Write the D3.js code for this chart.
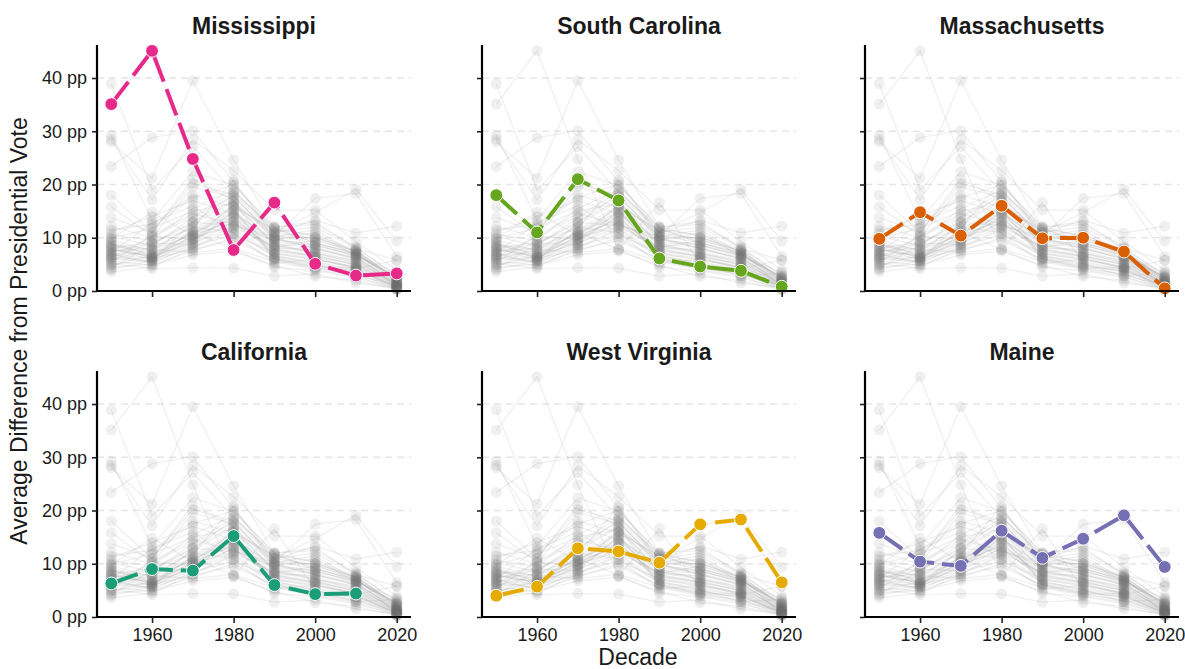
<!DOCTYPE html>
<html>
<head>
<meta charset="utf-8">
<script src="https://cdn.jsdelivr.net/npm/d3@7"></script>
<style>
  html, body { margin: 0; padding: 0; background: #ffffff; }
  svg { display: block; font-family: "Liberation Sans", Arial, Helvetica, sans-serif; }
</style>
</head>
<body>
<svg id="chart" width="1185" height="669"></svg>
<script>
// Decades on the x axis
const decades = [1950, 1960, 1970, 1980, 1990, 2000, 2010, 2020];
const xTickValues = [1960, 1980, 2000, 2020];
const yTickValues = [0, 10, 20, 30, 40];
const gridValues = [10, 20, 30, 40];

// States shown in their own panel, with their colours
const focusStates = ["Mississippi", "South Carolina", "Massachusetts", "California", "West Virginia", "Maine"];
const focusColors = ["#E7298A", "#66A61E", "#D95F02", "#1B9E77", "#E6AB02", "#7570B3"];

// Average difference (pp) per decade, one row per state (null = no value)
const stateNames = [
  "Mississippi", "South Carolina", "Massachusetts", "California", "West Virginia", "Maine",
  "Alabama", "Georgia", "Louisiana", "Arkansas", "Texas", "Virginia", "North Carolina",
  "Tennessee", "Florida", "Kentucky", "Oklahoma", "Maryland", "Delaware", "New York",
  "New Jersey", "Pennsylvania", "Ohio", "Michigan", "Indiana", "Illinois", "Wisconsin",
  "Minnesota", "Iowa", "Missouri", "Kansas", "Nebraska", "South Dakota", "North Dakota",
  "Montana", "Wyoming", "Colorado", "Utah", "Idaho", "Nevada", "Arizona", "New Mexico",
  "Oregon", "Washington", "Connecticut", "Rhode Island", "Vermont", "New Hampshire",
  "Hawaii", "Alaska"
];
const stateValues = [
  [35.1, 45.1, 24.8, 7.7, 16.6, 5.1, 2.9, 3.3],
  [18.0, 11.0, 21.0, 17.0, 6.1, 4.6, 3.8, 0.8],
  [9.8, 14.8, 10.4, 16.0, 9.9, 10.0, 7.4, 0.5],
  [6.3, 9.0, 8.7, 15.2, 6.0, 4.3, 4.4, null],
  [4.0, 5.7, 12.9, 12.3, 10.2, 17.4, 18.3, 6.5],
  [15.8, 10.4, 9.6, 16.2, 11.1, 14.7, 19.1, 9.4],
  [38.9, 19.0, 27.1, 18.6, 11.8, 9.0, 7.0, 2.5],
  [28.0, 21.2, 39.5, 24.6, 12.0, 10.2, 7.5, 1.8],
  [23.4, 28.8, 30.1, 20.5, 10.8, 13.3, 10.9, 12.2],
  [28.5, 17.1, 28.4, 22.6, 15.2, 15.2, 9.3, 3.9],
  [29.3, 13.3, 22.4, 19.8, 12.0, 12.5, 8.3, 2.7],
  [13.8, 11.0, 20.2, 18.0, 9.5, 8.8, 6.5, 1.2],
  [12.2, 10.0, 19.6, 17.5, 10.5, 9.0, 7.2, 1.5],
  [11.5, 12.5, 18.0, 15.8, 11.5, 10.5, 7.8, 2.0],
  [11.0, 14.0, 17.0, 14.5, 9.8, 8.0, 6.0, 1.0],
  [10.6, 9.5, 15.5, 19.0, 11.0, 12.0, 8.0, 5.8],
  [10.2, 8.5, 13.8, 17.8, 10.2, 11.5, 7.0, 2.4],
  [9.6, 7.5, 12.5, 16.8, 8.5, 7.5, 5.5, 1.4],
  [9.3, 6.5, 11.0, 14.0, 7.0, 6.0, 4.5, 0.8],
  [9.0, 6.0, 10.5, 13.2, 8.0, 7.8, 6.2, 1.6],
  [8.8, 6.8, 9.8, 12.8, 7.5, 6.5, 5.0, 1.1],
  [8.5, 7.2, 10.8, 15.0, 9.2, 8.5, 6.8, 2.1],
  [8.3, 6.3, 9.5, 14.8, 8.8, 8.2, 6.3, 1.7],
  [8.1, 5.8, 11.5, 16.0, 9.0, 7.0, 5.8, 1.3],
  [7.9, 6.4, 10.2, 13.5, 7.8, 6.8, 4.8, 0.9],
  [7.7, 6.6, 9.0, 12.0, 8.2, 9.5, 7.5, 2.4],
  [7.5, 8.0, 12.0, 11.0, 6.5, 5.5, 4.0, 0.5],
  [7.3, 9.0, 13.0, 17.0, 10.0, 8.0, 6.0, 1.9],
  [7.0, 5.2, 8.5, 10.5, 7.2, 6.2, 4.2, 0.7],
  [6.8, 6.2, 9.2, 14.2, 8.6, 7.2, 5.2, 1.5],
  [6.6, 5.5, 8.2, 11.8, 6.8, 5.0, 3.5, 0.4],
  [6.1, 6.1, 7.8, 9.5, 6.0, 4.5, 3.0, 1.0],
  [5.9, 7.8, 7.2, 8.0, 5.5, 4.0, 2.8, 0.3],
  [5.6, 4.8, 6.8, 7.5, 4.8, 2.7, 2.0, 0.2],
  [5.4, 10.5, 14.5, 12.5, 9.5, 11.0, 6.5, 2.8],
  [5.2, 4.2, 4.4, 4.3, 2.8, 3.2, 1.5, 0.6],
  [5.0, 5.8, 8.8, 13.0, 7.0, 5.8, 4.6, 1.2],
  [4.8, 6.7, 11.2, 15.5, 6.2, 4.8, 3.8, 0.8],
  [4.5, 5.0, 7.5, 10.0, 5.8, 4.2, 3.2, 0.5],
  [4.2, 8.8, 12.8, 18.2, 11.0, 9.8, 7.0, 2.0],
  [3.6, 4.5, 8.0, 11.5, 6.4, 5.2, 4.0, 1.0],
  [9.9, 11.8, 15.0, 16.5, 10.4, 10.0, 7.6, 2.3],
  [6.9, 7.0, 10.0, 12.2, 8.4, 7.0, 5.4, 1.4],
  [6.0, 5.6, 9.8, 13.8, 7.6, 6.6, 5.0, 1.1],
  [8.7, 7.8, 10.6, 14.6, 8.0, 6.4, 4.4, 0.6],
  [8.0, 9.2, 11.8, 20.8, 9.8, 8.6, 6.6, 3.5],
  [7.2, 12.8, 16.0, 10.8, 5.2, 6.0, 4.2, 5.8],
  [6.4, 10.2, 14.0, 18.6, 11.6, 9.2, 6.8, 2.6],
  [null, 8.2, 11.0, 7.8, 4.5, 3.8, 2.5, 0.4],
  [null, 12.0, 17.5, 20.0, 12.0, 13.0, 8.0, 3.0]
];

// Layout of the 2 x 3 panel grid
const colLeft = [97, 482, 865];
const panelWidth = 314;
const rowTop = [45, 371];
const panelHeight = 246;
const font = '"Liberation Sans", Arial, Helvetica, sans-serif';

const svg = d3.select("#chart");

// Shared scales (each panel group is translated into place)
const x = d3.scaleLinear().domain([1946.5, 2023.5]).range([0, panelWidth]);
const y = d3.scaleLinear().domain([0, 46.2]).range([panelHeight, 0]);

const series = stateNames.map((name, i) => ({
  name,
  points: decades.map((d, j) => ({ decade: d, value: stateValues[i][j] }))
}));

const line = d3.line()
  .defined(p => p.value !== null)
  .x(p => x(p.decade))
  .y(p => y(p.value));

focusStates.forEach((stateName, k) => {
  const row = Math.floor(k / 3), col = k % 3;
  const g = svg.append("g").attr("transform", `translate(${colLeft[col]},${rowTop[row]})`);

  // dashed horizontal gridlines
  g.append("g").selectAll("line").data(gridValues).join("line")
    .attr("x1", 0).attr("x2", panelWidth)
    .attr("y1", d => y(d)).attr("y2", d => y(d))
    .attr("stroke", "#e6e6e6").attr("stroke-width", 1.4)
    .attr("stroke-dasharray", "7,5");

  // all states as faint context
  g.append("g").selectAll("path").data(series).join("path")
    .attr("d", s => line(s.points))
    .attr("fill", "none")
    .attr("stroke", "#a0a0a0").attr("stroke-opacity", 0.16)
    .attr("stroke-width", 1.3);

  const allPts = series.flatMap(s => s.points.filter(p => p.value !== null));
  g.append("g").selectAll("circle").data(allPts).join("circle")
    .attr("cx", p => x(p.decade)).attr("cy", p => y(p.value))
    .attr("r", 5.5)
    .attr("fill", "#707070").attr("fill-opacity", 0.1);

  // focus state
  const focus = series.find(s => s.name === stateName);
  const color = focusColors[k];
  g.append("path")
    .attr("d", line(focus.points))
    .attr("fill", "none")
    .attr("stroke", color).attr("stroke-width", 4)
    .attr("stroke-dasharray", "28,8");
  g.append("g").selectAll("circle")
    .data(focus.points.filter(p => p.value !== null)).join("circle")
    .attr("cx", p => x(p.decade)).attr("cy", p => y(p.value))
    .attr("r", 6.4)
    .attr("fill", color)
    .attr("stroke", "#ffffff").attr("stroke-width", 1);

  // axes
  const yAxis = d3.axisLeft(y).tickValues(yTickValues).tickSize(5).tickPadding(5)
    .tickFormat(col === 0 ? (d => `${d} pp`) : () => "");
  const ya = g.append("g").call(yAxis);
  const xAxis = d3.axisBottom(x).tickValues(xTickValues).tickSize(6).tickPadding(5)
    .tickFormat(row === 1 ? d3.format("d") : () => "");
  const xa = g.append("g").attr("transform", `translate(0,${panelHeight})`).call(xAxis);

  [ya, xa].forEach(a => {
    a.select(".domain").attr("stroke", "#000").attr("stroke-width", 2.2);
    a.selectAll(".tick line").attr("stroke", "#222").attr("stroke-width", 1.6);
    a.selectAll(".tick text").attr("fill", "#1a1a1a")
      .style("font-family", font).style("font-size", "18px");
  });
  // plain axis lines without end caps
  ya.select(".domain").attr("d", `M0,0V${panelHeight}`);
  xa.select(".domain").attr("d", `M0,0H${panelWidth}`);

  // panel title
  g.append("text")
    .attr("x", panelWidth / 2).attr("y", -11)
    .attr("text-anchor", "middle")
    .style("font-family", font).style("font-size", "23px").style("font-weight", "bold")
    .attr("fill", "#1a1a1a")
    .text(stateName);
});

// axis titles
svg.append("text")
  .attr("transform", `translate(27,${(rowTop[0] + rowTop[1] + panelHeight) / 2}) rotate(-90)`)
  .attr("text-anchor", "middle")
  .style("font-family", font).style("font-size", "23px")
  .attr("fill", "#1a1a1a")
  .text("Average Difference from Presidential Vote");

svg.append("text")
  .attr("x", (colLeft[0] + colLeft[2] + panelWidth) / 2).attr("y", 665)
  .attr("text-anchor", "middle")
  .style("font-family", font).style("font-size", "23px")
  .attr("fill", "#1a1a1a")
  .text("Decade");
</script>
</body>
</html>
